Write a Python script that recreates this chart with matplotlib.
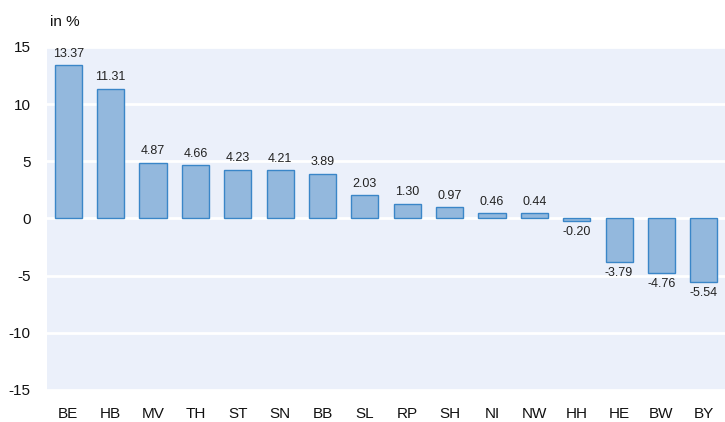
import matplotlib
matplotlib.use("Agg")
import matplotlib.pyplot as plt

categories = ["BE", "HB", "MV", "TH", "ST", "SN", "BB", "SL", "RP", "SH", "NI", "NW", "HH", "HE", "BW", "BY"]
values = [13.37, 11.31, 4.87, 4.66, 4.23, 4.21, 3.89, 2.03, 1.30, 0.97, 0.46, 0.44, -0.20, -3.79, -4.76, -5.54]
yticks = [-15, -10, -5, 0, 5, 10, 15]

plt.rcParams['font.family'] = ['Liberation Sans', 'DejaVu Sans']

fig = plt.figure(figsize=(7.25, 4.22), dpi=100)
ax = fig.add_axes([0.065, 0.076, 0.935, 0.813])
ax.set_facecolor("#ebf0fa")
x = list(range(len(categories)))
ax.bar(x, values, width=0.64, color="#93b8dd", edgecolor="#3a86c8", linewidth=1.0, zorder=3)
ax.set_xlim(-0.5, len(categories) - 0.5)
ax.set_ylim(-15, 15)
ax.set_yticks(yticks)
ax.set_yticklabels([str(t) for t in yticks])
ax.set_xticks(x)
ax.set_xticklabels(categories)
ax.grid(axis="y", color="white", linewidth=2, zorder=1)
ax.grid(axis="x", visible=False)
for s in ax.spines.values():
    s.set_visible(False)
ax.tick_params(axis="both", length=0, labelsize=11, colors="#111111")
ax.tick_params(axis="y", pad=12)
ax.tick_params(axis="x", pad=12)
for xi, v in zip(x, values):
    if v >= 0:
        ax.annotate(f"{v:.2f}", (xi, v), xytext=(0, 4), textcoords="offset points",
                    ha="center", va="bottom", fontsize=9, color="#222222")
    else:
        ax.annotate(f"{v:.2f}", (xi, v), xytext=(0, -4), textcoords="offset points",
                    ha="center", va="top", fontsize=9, color="#222222")
fig.text(0.069, 0.948, "in %", fontsize=11, ha="left", va="center", color="#111111")
fig.savefig("out.png", dpi=100)
